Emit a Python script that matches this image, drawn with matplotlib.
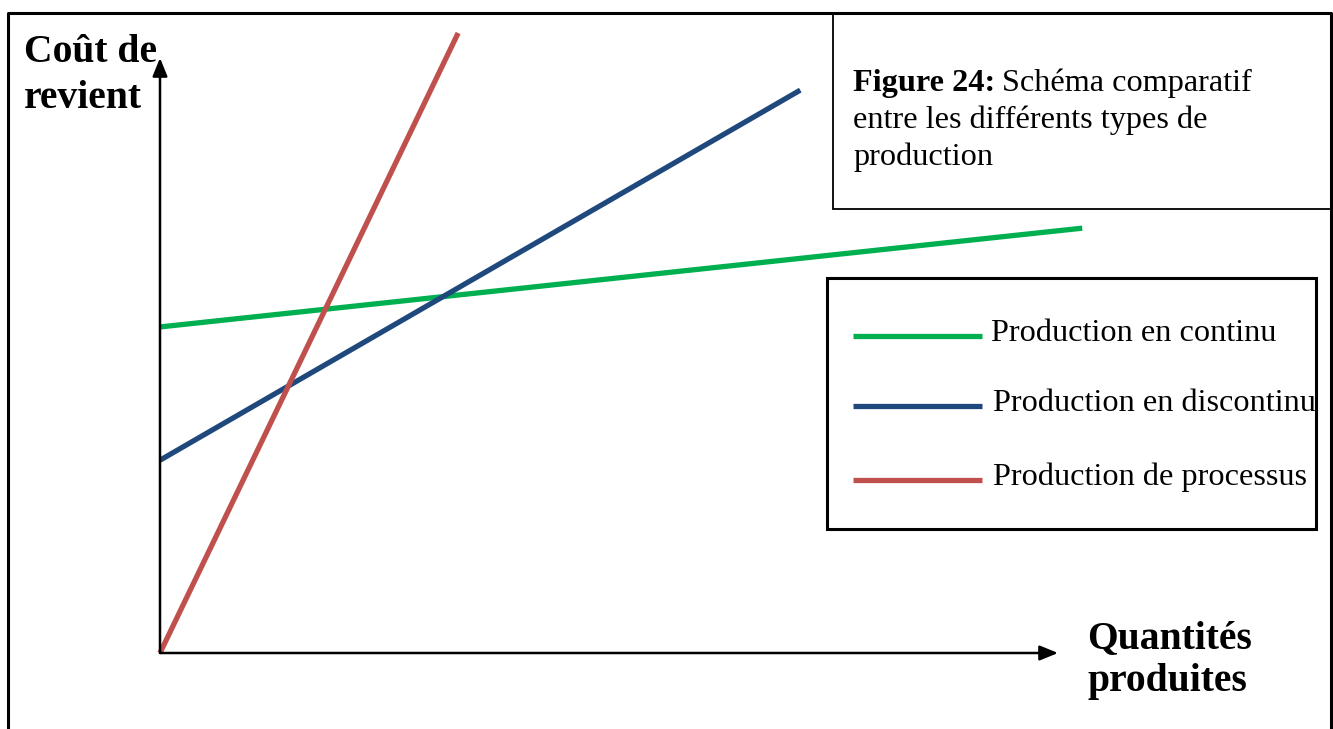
import matplotlib
matplotlib.use("Agg")
import matplotlib.pyplot as plt
from matplotlib.patches import Rectangle

# cost vs. produced quantity, arbitrary units (axes go 0..100)
series = ["Production en continu", "Production en discontinu", "Production de processus"]
x_start = [0, 0, 0]
x_end = [102.7, 71.3, 33.2]
y_start = [54.8, 32.4, 0]
y_end = [71.4, 94.6, 104.2]
colors = ["#00B050", "#1F497D", "#C0504D"]

W, H = 1333, 729
fig = plt.figure(figsize=(W / 100, H / 100), dpi=100)
serif = "Liberation Serif"

def fx(px):
    return px / W

def fy(py):
    return 1 - py / H

# outer frame (left, top, right; no bottom edge)
fig.add_artist(plt.Line2D([fx(8), fx(8), fx(1331), fx(1331)],
                          [fy(729), fy(13), fy(13), fy(729)],
                          color="black", lw=2.2, transform=fig.transFigure))

# plot area: origin at (160, 653), x arrow to 1058, y arrow to 58
ax = fig.add_axes([fx(160), fy(653), fx(1058) - fx(160), fy(58) - fy(653)])
ax.set_xlim(0, 100)
ax.set_ylim(0, 100)
ax.axis("off")

for xs, xe, ys, ye, c in zip(x_start, x_end, y_start, y_end, colors):
    ax.plot([xs, xe], [ys, ye], color=c, lw=3.8, clip_on=False,
            solid_capstyle="butt", zorder=3)

arrow = dict(arrowstyle="-|>,head_length=1.1,head_width=0.45", color="black",
             lw=1.8, shrinkA=0, shrinkB=0)
ax.annotate("", xy=(0, 1), xytext=(0, 0), xycoords="axes fraction", arrowprops=arrow)
ax.annotate("", xy=(1, 0), xytext=(0, 0), xycoords="axes fraction", arrowprops=arrow)

bold = dict(fontsize=28.5, fontweight="bold", family=serif, ha="left", va="baseline")
fig.text(fx(24), fy(62), "Coût de", **bold)
fig.text(fx(24), fy(108), "revient", **bold)
fig.text(fx(1087), fy(648), "Quantités", **bold)
fig.text(fx(1087), fy(691), "produites", **bold)

# caption box
fig.add_artist(Rectangle((fx(833), fy(209)), fx(1331) - fx(833), fy(13) - fy(209),
                         transform=fig.transFigure, fill=False, lw=1.3, ec="black"))
cap = dict(fontsize=23.2, family=serif, ha="left", va="baseline")
t = fig.text(fx(853), fy(91), "Figure 24:", fontweight="bold", **cap)
fig.canvas.draw()
bb = t.get_window_extent()
fig.text(bb.x1 / W + fx(7), fy(91), "Schéma comparatif", **cap)
fig.text(fx(853), fy(128), "entre les différents types de", **cap)
fig.text(fx(853), fy(165), "production", **cap)

# legend box
fig.add_artist(Rectangle((fx(827), fy(529)), fx(1316) - fx(827), fy(278) - fy(529),
                         transform=fig.transFigure, fill=False, lw=2.2, ec="black"))
legend_y = [336, 406, 480]
legend_tx = [991, 993, 993]
for name, c, ly, lx in zip(series, colors, legend_y, legend_tx):
    fig.add_artist(plt.Line2D([fx(853), fx(982)], [fy(ly), fy(ly)], color=c, lw=3.8,
                              transform=fig.transFigure, solid_capstyle="butt"))
    fig.text(fx(lx), fy(ly + 5), name, fontsize=23.2, family=serif,
             ha="left", va="baseline")

fig.savefig("out.png", dpi=100)
